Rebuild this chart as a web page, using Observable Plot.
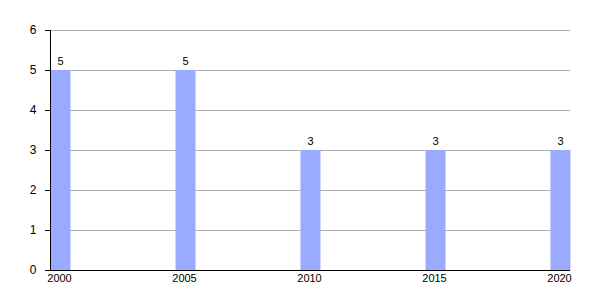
<!DOCTYPE html>
<html>
<head>
<meta charset="utf-8">
<script src="https://cdn.jsdelivr.net/npm/d3@7"></script>
<script src="https://cdn.jsdelivr.net/npm/@observablehq/plot@0.6"></script>
<style>
  body { margin: 0; background: #fff; }
</style>
</head>
<body>
<div id="chart"></div>
<script>
const years = [2000, 2005, 2010, 2015, 2020];
const values = [5, 5, 3, 3, 3];
const yTicks = [0, 1, 2, 3, 4, 5, 6];

const data = years.map((year, i) => ({year, value: values[i]}));

const chart = Plot.plot({
  width: 600,
  height: 300,
  marginTop: 30,
  marginBottom: 30,
  marginLeft: 50,
  marginRight: 30,
  style: {fontFamily: "'Liberation Sans', Arial, sans-serif", fontSize: "11px", color: "#000", background: "#fff"},
  x: {domain: [2000, 2020], range: [50, 550]},
  y: {domain: [0, 6]},
  marks: [
    Plot.gridY(yTicks, {stroke: "#b0b0b0", strokeOpacity: 1}),
    Plot.ruleX(data, {x: "year", y1: 0, y2: "value", stroke: "#9aabff", strokeWidth: 20, dx: 10}),
    Plot.ruleY([0], {stroke: "#000", strokeWidth: 1}),
    Plot.ruleX([years[0]], {y1: 0, y2: 6, stroke: "#000", strokeWidth: 1}),
    Plot.axisY(yTicks, {tickSize: 5, tickPadding: 9, stroke: "#000", label: null, tickFormat: d => String(d), fontSize: 12}),
    Plot.axisX(years, {tickSize: 0, tickPadding: 4, dx: 9, label: null, tickFormat: d => String(d), fontSize: 11}),
    Plot.text(data, {x: "year", y: "value", text: d => String(d.value), dx: 10, dy: -9, fontSize: 11, fill: "#000"})
  ]
});
document.getElementById("chart").append(chart);
</script>
</body>
</html>
